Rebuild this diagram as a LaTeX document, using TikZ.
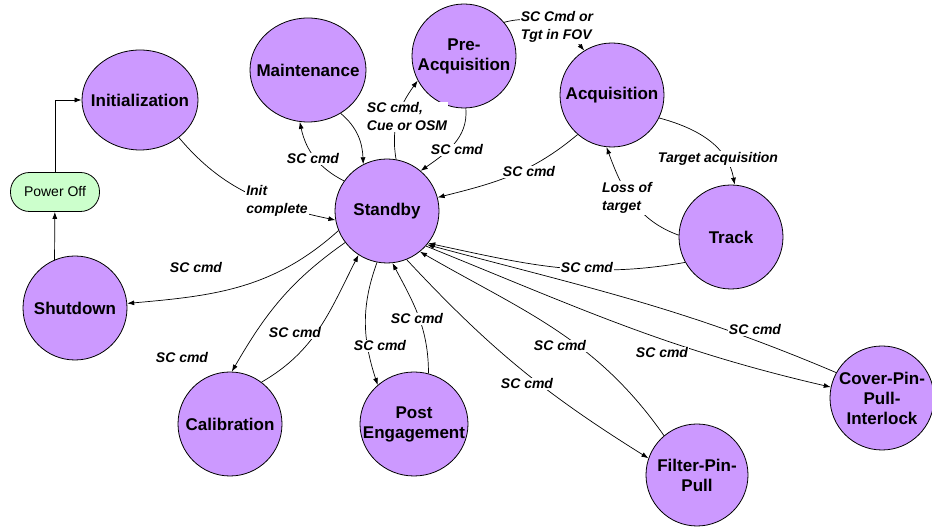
\documentclass[tikz,border=0pt]{standalone}
\usepackage{fontspec}
\setmainfont{Liberation Sans}
\usetikzlibrary{arrows.meta,shapes.geometric}
\definecolor{stpurple}{RGB}{204,153,255}
\definecolor{stgreen}{RGB}{204,255,204}
\begin{document}
\begin{tikzpicture}[x=1pt,y=1pt,
  stxt/.style={inner sep=0pt,align=center,font=\fontsize{17}{20}\selectfont\bfseries},
  state/.style={circle,draw=black,line width=0.8pt,fill=stpurple,minimum size=104pt,inner sep=0pt},
  ostate/.style={ellipse,draw=black,line width=0.8pt,fill=stpurple,inner sep=0pt},
  pwr/.style={rectangle,rounded corners=19pt,draw=black,line width=0.8pt,fill=stgreen,minimum width=89pt,minimum height=39pt,inner sep=0pt,font=\fontsize{14}{17}\selectfont},
  lbl/.style={fill=white,inner sep=1pt,align=left,font=\fontsize{14}{18}\selectfont\bfseries\itshape},
  arr/.style={-{Latex[length=7pt,width=5pt]},line width=0.7pt}]
\useasboundingbox (0,0) rectangle (932,529);
% states
\node[ostate,minimum width=116pt,minimum height=100pt,label={[stxt]center:Initialization}] (Init) at (140,429) {};
\node[ostate,minimum width=116pt,minimum height=104pt,label={[stxt]center:Maintenance}] (Maint) at (308,459) {};
\node[state,label={[stxt]center:{Pre-\\Acquisition}}] (PreAcq) at (464,473) {};
\node[state,label={[stxt]center:Acquisition}] (Acq) at (612,434) {};
\node[state,label={[stxt]center:Track}] (Track) at (731,292) {};
\node[state,label={[stxt]center:Standby}] (Standby) at (387,318) {};
\node[state,label={[stxt]center:Shutdown}] (Shutdown) at (75,221) {};
\node[state,label={[stxt]center:Calibration}] (Calib) at (230,105) {};
\node[ostate,minimum width=108pt,minimum height=104pt,label={[stxt]center:{Post\\Engagement}}] (PostEng) at (414,105) {};
\node[state,minimum size=102pt,label={[stxt]center:{Filter-Pin-\\Pull}}] (FPP) at (697,54) {};
\node[state,label={[stxt]center:{Cover-Pin-\\Pull-\\Interlock}}] (Cover) at (882,131) {};
\node[pwr] (PowerOff) at (55,337) {Power Off};
% connectors
\draw[arr] (Shutdown.113) -- (PowerOff);
\draw[arr] (PowerOff.north) |- (Init.west);
\draw[arr] (Init.-44) to[out=-50,in=168] (Standby.190);
\draw[arr] (Standby.145) to[out=153,in=-78] (Maint.261);
\draw[arr] (Maint.-53) to[out=-40,in=92] (Standby.117);
\draw[arr] (Standby.80) to[out=100,in=234] (PreAcq.208);
\draw[arr] (PreAcq.-88) to[out=-85,in=35] (Standby.50);
\draw[arr] (PreAcq.40) to[out=15,in=130] (Acq.122);
\draw[arr] (Acq.229) to[out=220,in=14] (Standby.15);
\draw[arr] (Acq.-26) to[out=-15,in=100] (Track.86);
\draw[arr] (Track.178) to[out=160,in=-70] (Acq.264);
\draw[arr] (Track.209) to[out=190,in=-12] (Standby.-38);
\draw[arr] (Standby.202) to[out=222,in=5] (Shutdown.5);
\draw[arr] (Standby.217) to[out=215,in=60] (Calib.88);
\draw[arr] (Calib.53) to[out=30,in=243] (Standby.237);
\draw[arr] (Standby.259) to[out=250,in=108] (PostEng.133);
\draw[arr] (PostEng.74) to[out=90,in=-62] (Standby.-84);
\draw[arr] (Standby.-68) to[out=-47,in=148] (FPP.161);
\draw[arr] (FPP.130) to[out=125,in=-30] (Standby.-51);
\draw[arr] (Standby.-42) to[out=-22,in=167] (Cover.168);
\draw[arr] (Cover.151) to[out=157,in=-15] (Standby.-40);
% labels
\node[lbl] (L3) at (277,328) {Init\\complete};
\node[lbl] (L4) at (313,370) {SC cmd};
\node[lbl] (L6) at (407,412) {SC cmd,\\Cue or OSM};
\node[lbl] (L7) at (457,379) {SC cmd};
\node[lbl] (L8) at (557,502) {SC Cmd or\\Tgt in FOV};
\node[lbl] (L9) at (529,357) {SC cmd};
\node[lbl] (L10) at (718,370) {Target acquisition};
\node[lbl] (L11) at (627,331) {Loss of\\target};
\node[lbl] (L12) at (587,261) {SC cmd};
\node[lbl] (L13) at (196,261) {SC cmd};
\node[lbl] (L14) at (182,171) {SC cmd};
\node[lbl] (L15) at (295,196) {SC cmd};
\node[lbl] (L16) at (380,183) {SC cmd};
\node[lbl] (L17) at (417,210) {SC cmd};
\node[lbl] (L18) at (527,145) {SC cmd};
\node[lbl] (L19) at (560,183) {SC cmd};
\node[lbl] (L20) at (662,176) {SC cmd};
\node[lbl] (L21) at (755,199) {SC cmd};
\end{tikzpicture}
\end{document}
